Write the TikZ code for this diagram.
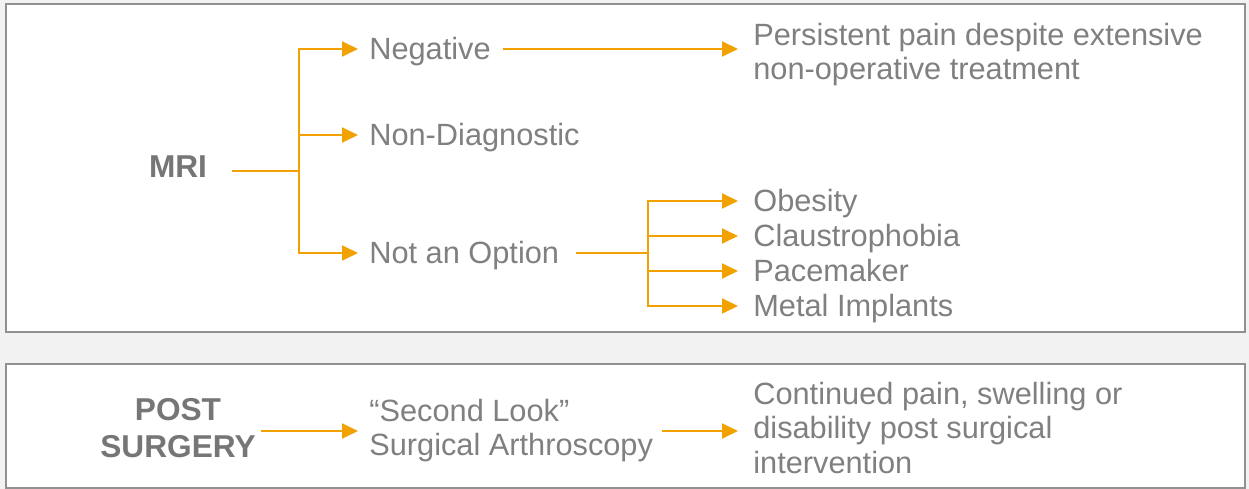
\documentclass[tikz,border=0pt]{standalone}
\usepackage{fontspec}
\setmainfont{Liberation Sans}
\usetikzlibrary{arrows.meta,positioning}

\definecolor{flow}{RGB}{242,162,0}
\definecolor{txt}{RGB}{128,128,128}
\definecolor{head}{RGB}{118,118,118}
\definecolor{frame}{RGB}{145,145,145}
\definecolor{band}{RGB}{242,242,242}

\tikzset{
  item/.style={anchor=west, inner sep=0pt, text=txt, text height=0.42cm, text depth=0pt,
    font=\fontsize{17.5}{19.4}\selectfont},
  block/.style={anchor=west, inner sep=0pt, text=txt, align=left,
    font=\fontsize{17.5}{19.4}\selectfont},
  title/.style={inner sep=0pt, text=head, align=center,
    font=\fontsize{18}{21}\selectfont\bfseries},
  link/.style={draw=flow, line width=1.1pt},
  go/.style={link, -{Triangle[length=0.32cm,width=0.3cm]}},
}

\begin{document}
\begin{tikzpicture}[x=0.02cm, y=-0.02cm]
	\useasboundingbox (0,0) rectangle (1249,489);
	\fill[band] (0,0) rectangle (1249,489);
	\filldraw[fill=white, draw=frame, line width=1.1pt] (6,4) rectangle (1245,332);
	\filldraw[fill=white, draw=frame, line width=1.1pt] (6,364) rectangle (1245,488);

	% MRI
	\node (mri) [title] at (178,167) {MRI};
	\node (neg) [item] at (369,49) {Negative};
	\node (nondiag) [item] at (369,135) {Non-Diagnostic};
	\node (notopt) [item] at (369,253) {Not an Option};
	\node (pers) [block] at (753,55) {Persistent pain despite extensive\\non-operative treatment};
	\node (obes) [item] at (753,201) {Obesity};
	\node (claus) [item] at (753,236) {Claustrophobia};
	\node (pace) [item] at (753,271) {Pacemaker};
	\node (metal) [item] at (753,306) {Metal Implants};

	\coordinate (fork) at (299,171);
	\coordinate (fork2) at (648,253);

	\draw[link, shorten <=0.5cm] (mri.east |- fork) -- (fork);
	\draw[go, shorten >=0.22cm] (fork) |- (neg);
	\draw[go, shorten >=0.22cm] (fork |- nondiag) -- (nondiag);
	\draw[go, shorten >=0.22cm] (fork) |- (notopt);
	\draw[go, shorten <=0.24cm, shorten >=0.3cm] (neg) -- (neg -| pers.west);

	\draw[link, shorten <=0.34cm] (notopt) -- (fork2);
	\draw[go, shorten >=0.3cm] (fork2) |- (obes);
	\draw[go, shorten >=0.3cm] (fork2 |- claus) -- (claus);
	\draw[go, shorten >=0.3cm] (fork2 |- pace) -- (pace);
	\draw[go, shorten >=0.3cm] (fork2) |- (metal);

	% post surgery
	\node (post) [title] at (178,428) {POST\\SURGERY};
	\node (second) [block] at (369,431) {``Second Look''\\Surgical Arthroscopy};
	\node (cont) [block] at (753,428) {Continued pain, swelling or\\disability post surgical\\intervention};

	\draw[go, shorten <=0.1cm, shorten >=0.22cm] (post.east |- second) -- (second);
	\draw[go, shorten <=0.18cm, shorten >=0.3cm] (second) -- (second -| cont.west);
\end{tikzpicture}
\end{document}
